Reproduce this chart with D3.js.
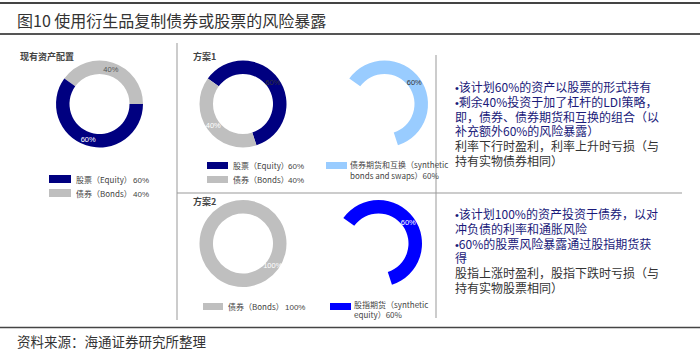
<!DOCTYPE html>
<html><head><meta charset="utf-8">
<script src="https://cdn.jsdelivr.net/npm/d3@7"></script>
<style>
body{margin:0;background:#fff;}
svg{display:block;}
</style></head>
<body>
<svg id="c" width="700" height="355"></svg>
<script>
// ---- data ----
const titleText = "图10 使用衍生品复制债券或股票的风险暴露";
const sourceText = "资料来源：海通证券研究所整理";

const currentTitle = "现有资产配置";
const currentLabels = ["股票（Equity）", "债券（Bonds）"];
const currentValues = [60, 40];

const plan1Title = "方案1";
const plan1Labels = ["股票（Equity）", "债券（Bonds）"];
const plan1Values = [60, 40];
const plan1SynthLabel = ["债券期货和互换（synthetic", "bonds and swaps）60%"];
const plan1SynthValues = [60, 40];

const plan2Title = "方案2";
const plan2Labels = ["债券（Bonds）"];
const plan2Values = [100];
const plan2SynthLabel = ["股指期货（synthetic", "equity）60%"];
const plan2SynthValues = [60, 40];

// [bullet?, text]
const plan1Notes = [
  [true, "该计划60%的资产以股票的形式持有"],
  [true, "剩余40%投资于加了杠杆的LDI策略，"],
  [false, "即，债券、债券期货和互换的组合（以"],
  [false, "补充额外60%的风险暴露）"],
  [false, "利率下行时盈利，利率上升时亏损（与"],
  [false, "持有实物债券相同）"]
];
const plan2Notes = [
  [true, "该计划100%的资产投资于债券，以对"],
  [false, "冲负债的利率和通胀风险"],
  [true, "60%的股票风险暴露通过股指期货获"],
  [false, "得"],
  [false, "股指上涨时盈利，股指下跌时亏损（与"],
  [false, "持有实物股票相同）"]
];

// ---- style ----
const NAVY = "#000080", GRAY = "#bfbfbf", LBLUE = "#99ccff", BLUE = "#0000ff";
const CJK = "'Noto Sans CJK SC','Liberation Sans',sans-serif";
const LAT = "'Liberation Sans',Arial,'Noto Sans CJK SC',sans-serif";

const svg = d3.select("#c");

// frame lines
svg.append("line").attr("x1",0).attr("x2",700).attr("y1",3).attr("y2",3).attr("stroke","#444").attr("stroke-width",2);
svg.append("line").attr("x1",0).attr("x2",700).attr("y1",34).attr("y2",34).attr("stroke","#555").attr("stroke-width",2);
svg.append("line").attr("x1",0).attr("x2",700).attr("y1",327.5).attr("y2",327.5).attr("stroke","#444").attr("stroke-width",1.5);
svg.append("text").attr("x",17).attr("y",27).attr("font-family",CJK).attr("font-size",16).attr("fill","#333").text(titleText);
svg.append("text").attr("x",17).attr("y",347).attr("font-family",CJK).attr("font-size",13.5).attr("fill","#333").text(sourceText);

// panel separators
svg.append("line").attr("x1",177).attr("x2",177).attr("y1",43).attr("y2",320).attr("stroke","#999").attr("stroke-width",1);
svg.append("line").attr("x1",436).attr("x2",436).attr("y1",55).attr("y2",318).attr("stroke","#999").attr("stroke-width",1);
svg.append("line").attr("x1",177).attr("x2",682).attr("y1",193).attr("y2",193).attr("stroke","#999").attr("stroke-width",1);

const R = 43.5, r = 30;
const START = -0.15 * 2 * Math.PI;
const arc = d3.arc().innerRadius(r).outerRadius(R);

function donut(cx, cy, values, colors, labelColors, visible) {
  const pie = d3.pie().sort(null).value(d => d.v).startAngle(START).endAngle(START + 2*Math.PI);
  const data = values.map((v,i) => ({v, i}));
  const g = svg.append("g").attr("transform",`translate(${cx},${cy})`);
  const arcs = pie(data).filter(a => visible[a.data.i]);
  g.selectAll("path").data(arcs).join("path").attr("d",arc).attr("fill",a => colors[a.data.i]);
  g.selectAll("text").data(arcs).join("text")
    .attr("transform",a => `translate(${arc.centroid(a)})`)
    .attr("text-anchor","middle").attr("dy","0.35em")
    .attr("font-family",LAT).attr("font-size",7.5).attr("fill",a => labelColors[a.data.i])
    .text(a => a.data.v + "%");
}

function legendItem(x, y, w, h, color, label, pct, pctX) {
  svg.append("rect").attr("x",x).attr("y",y).attr("width",w).attr("height",h).attr("fill",color);
  svg.append("text").attr("x",x+w+5).attr("y",y+h-0.5)
    .attr("font-family",CJK).attr("font-size",8).attr("fill","#444").text(label);
  if (pct) svg.append("text").attr("x",pctX).attr("y",y+h-0.5).attr("font-family",LAT).attr("font-size",8).attr("fill","#444").text(pct);
}

function panelTitle(x, y, t) {
  svg.append("text").attr("x",x).attr("y",y).attr("font-family",CJK).attr("font-size",9).attr("font-weight","bold").attr("fill","#444").text(t);
}

// current allocation: bonds slice first from start angle
panelTitle(20, 60, currentTitle);
donut(99.5, 104, [currentValues[1], currentValues[0]], [GRAY, NAVY], ["#555", "#fff"], [true, true]);
legendItem(49, 175, 22, 8, NAVY, currentLabels[0], currentValues[0] + "%", 133);
legendItem(49, 189, 22, 8, GRAY, currentLabels[1], currentValues[1] + "%", 133);

// plan 1
panelTitle(193, 60, plan1Title);
donut(243, 104, plan1Values, [NAVY, GRAY], ["#333", "#fff"], [true, true]);
donut(384.5, 104, plan1SynthValues, [LBLUE, "none"], ["#333", "none"], [true, false]);
legendItem(207, 162, 21, 7, NAVY, plan1Labels[0], plan1Values[0] + "%", 288);
legendItem(207, 176, 21, 7, GRAY, plan1Labels[1], plan1Values[1] + "%", 288);
svg.append("rect").attr("x",326).attr("y",162).attr("width",21).attr("height",7).attr("fill",LBLUE);
plan1SynthLabel.forEach((t,k) => svg.append("text").attr("x",350).attr("y",168+k*11).attr("font-family",CJK).attr("font-size",8).attr("fill","#444").text(t));

// plan 2
panelTitle(193, 205, plan2Title);
donut(243, 243.5, plan2Values, [GRAY], ["#fff"], [true]);
donut(378.5, 243.5, plan2SynthValues, [BLUE, "none"], ["#fff", "none"], [true, false]);
legendItem(203, 303, 20, 7, GRAY, plan2Labels[0], plan2Values[0] + "%", 285);
svg.append("rect").attr("x",330).attr("y",303).attr("width",21).attr("height",7).attr("fill",BLUE);
plan2SynthLabel.forEach((t,k) => svg.append("text").attr("x",354).attr("y",308+k*10).attr("font-family",CJK).attr("font-size",8).attr("fill","#444").text(t));

// notes
function notes(x, y0, lines) {
  lines.forEach((d,k) => {
    const t = svg.append("text").attr("x",x).attr("y",y0+k*14.8).attr("font-family",CJK).attr("font-size",12)
      .attr("fill", k < 4 ? "#1a1a7a" : "#333");
    if (d[0]) t.append("tspan").attr("font-family",LAT).attr("font-size",11).text("•");
    t.append("tspan").text(d[1]);
  });
}
notes(455, 92, plan1Notes);
notes(455, 219, plan2Notes);
</script>
</body></html>
